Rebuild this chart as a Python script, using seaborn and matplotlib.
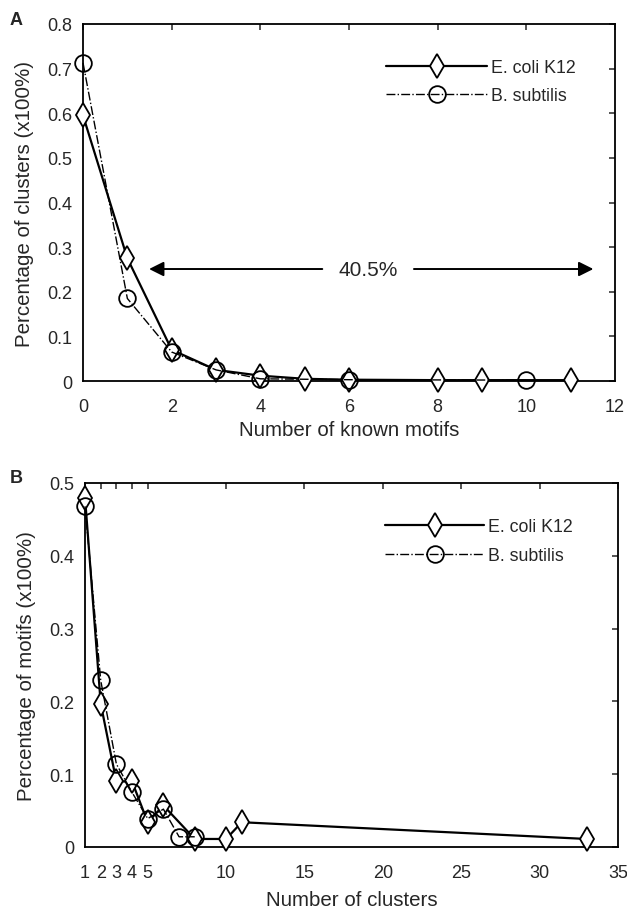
import matplotlib
matplotlib.use("Agg")
import matplotlib.pyplot as plt
import seaborn as sns

# panel A: fraction of clusters vs number of known motifs
a_ecoli_x = [0, 1, 2, 3, 4, 5, 6, 8, 9, 11]
a_ecoli_y = [0.595, 0.275, 0.07, 0.025, 0.012, 0.005, 0.003, 0.002, 0.002, 0.002]
a_bsub_x = [0, 1, 2, 3, 4, 6, 10]
a_bsub_y = [0.713, 0.185, 0.065, 0.025, 0.005, 0.003, 0.002]

# panel B: fraction of motifs vs number of clusters
b_ecoli_x = [1, 2, 3, 4, 5, 6, 8, 10, 11, 33]
b_ecoli_y = [0.48, 0.197, 0.09, 0.09, 0.034, 0.057, 0.011, 0.011, 0.034, 0.011]
b_bsub_x = [1, 2, 3, 4, 5, 6, 7, 8]
b_bsub_y = [0.468, 0.229, 0.114, 0.075, 0.039, 0.052, 0.014, 0.014]

labels = ["E. coli K12", "B. subtilis"]

sns.set_style("white")
plt.rcParams["font.family"] = ["Liberation Sans", "DejaVu Sans"]

fig = plt.figure(figsize=(6.27, 9.12), dpi=100)
axA = fig.add_axes([0.1324, 0.5811, 0.8486, 0.3915])
axB = fig.add_axes([0.1356, 0.0702, 0.85, 0.3991])


def draw(ax, ex, ey, bx, by, anchor, hlen):
    sns.lineplot(x=ex, y=ey, ax=ax, color="black", lw=1.6, linestyle="-",
                 marker="d", markersize=12, markerfacecolor="white",
                 markeredgecolor="black", markeredgewidth=1.3, sort=False,
                 label=labels[0], clip_on=False, zorder=3)
    sns.lineplot(x=bx, y=by, ax=ax, color="black", lw=1.0, linestyle="-.",
                 marker="o", markersize=12, markerfacecolor="none",
                 markeredgecolor="black", markeredgewidth=1.3, sort=False,
                 label=labels[1], clip_on=False, zorder=4)
    for s in ax.spines.values():
        s.set_linewidth(1.3)
        s.set_color("black")
    ax.tick_params(direction="in", top=True, right=True, length=4, width=1.1,
                   labelsize=13)
    ax.tick_params(axis="x", pad=12)
    ax.tick_params(axis="y", pad=8)
    ax.legend(loc="upper right", frameon=False, handlelength=hlen,
              handletextpad=0.2, labelspacing=0.65, fontsize=12.8,
              bbox_to_anchor=anchor)


draw(axA, a_ecoli_x, a_ecoli_y, a_bsub_x, a_bsub_y, (0.956, 0.947), 5.7)
axA.set_xlim(0, 12)
axA.set_ylim(0, 0.8)
axA.set_xticks(range(0, 13, 2))
axA.set_yticks([0, 0.1, 0.2, 0.3, 0.4, 0.5, 0.6, 0.7, 0.8])
axA.set_yticklabels(["0", "0.1", "0.2", "0.3", "0.4", "0.5", "0.6", "0.7", "0.8"])
axA.set_xlabel("Number of known motifs", fontsize=14.8, labelpad=4)
axA.set_ylabel("Percentage of clusters (x100%)", fontsize=14.8, labelpad=9)
axA.annotate("", xy=(1.49, 0.251), xytext=(6.43, 0.251),
             arrowprops=dict(arrowstyle="-|>", color="black", lw=1.4,
                             mutation_scale=22, shrinkA=33, shrinkB=0))
axA.annotate("", xy=(11.51, 0.251), xytext=(6.43, 0.251),
             arrowprops=dict(arrowstyle="-|>", color="black", lw=1.4,
                             mutation_scale=22, shrinkA=33, shrinkB=0))
axA.text(6.43, 0.251, "40.5%", ha="center", va="center", fontsize=15)

draw(axB, b_ecoli_x, b_ecoli_y, b_bsub_x, b_bsub_y, (0.945, 0.947), 5.6)
axB.set_xlim(1, 35)
axB.set_ylim(0, 0.5)
axB.set_xticks([1, 2, 3, 4, 5, 10, 15, 20, 25, 30, 35])
axB.set_yticks([0, 0.1, 0.2, 0.3, 0.4, 0.5])
axB.set_yticklabels(["0", "0.1", "0.2", "0.3", "0.4", "0.5"])
axB.set_xlabel("Number of clusters", fontsize=14.8, labelpad=7)
axB.set_ylabel("Percentage of motifs (x100%)", fontsize=14.8, labelpad=9)

fig.text(0.016, 0.978, "A", fontsize=13, fontweight="bold", va="center")
fig.text(0.016, 0.475, "B", fontsize=13, fontweight="bold", va="center")

fig.savefig("out.png", dpi=100, facecolor="white")
